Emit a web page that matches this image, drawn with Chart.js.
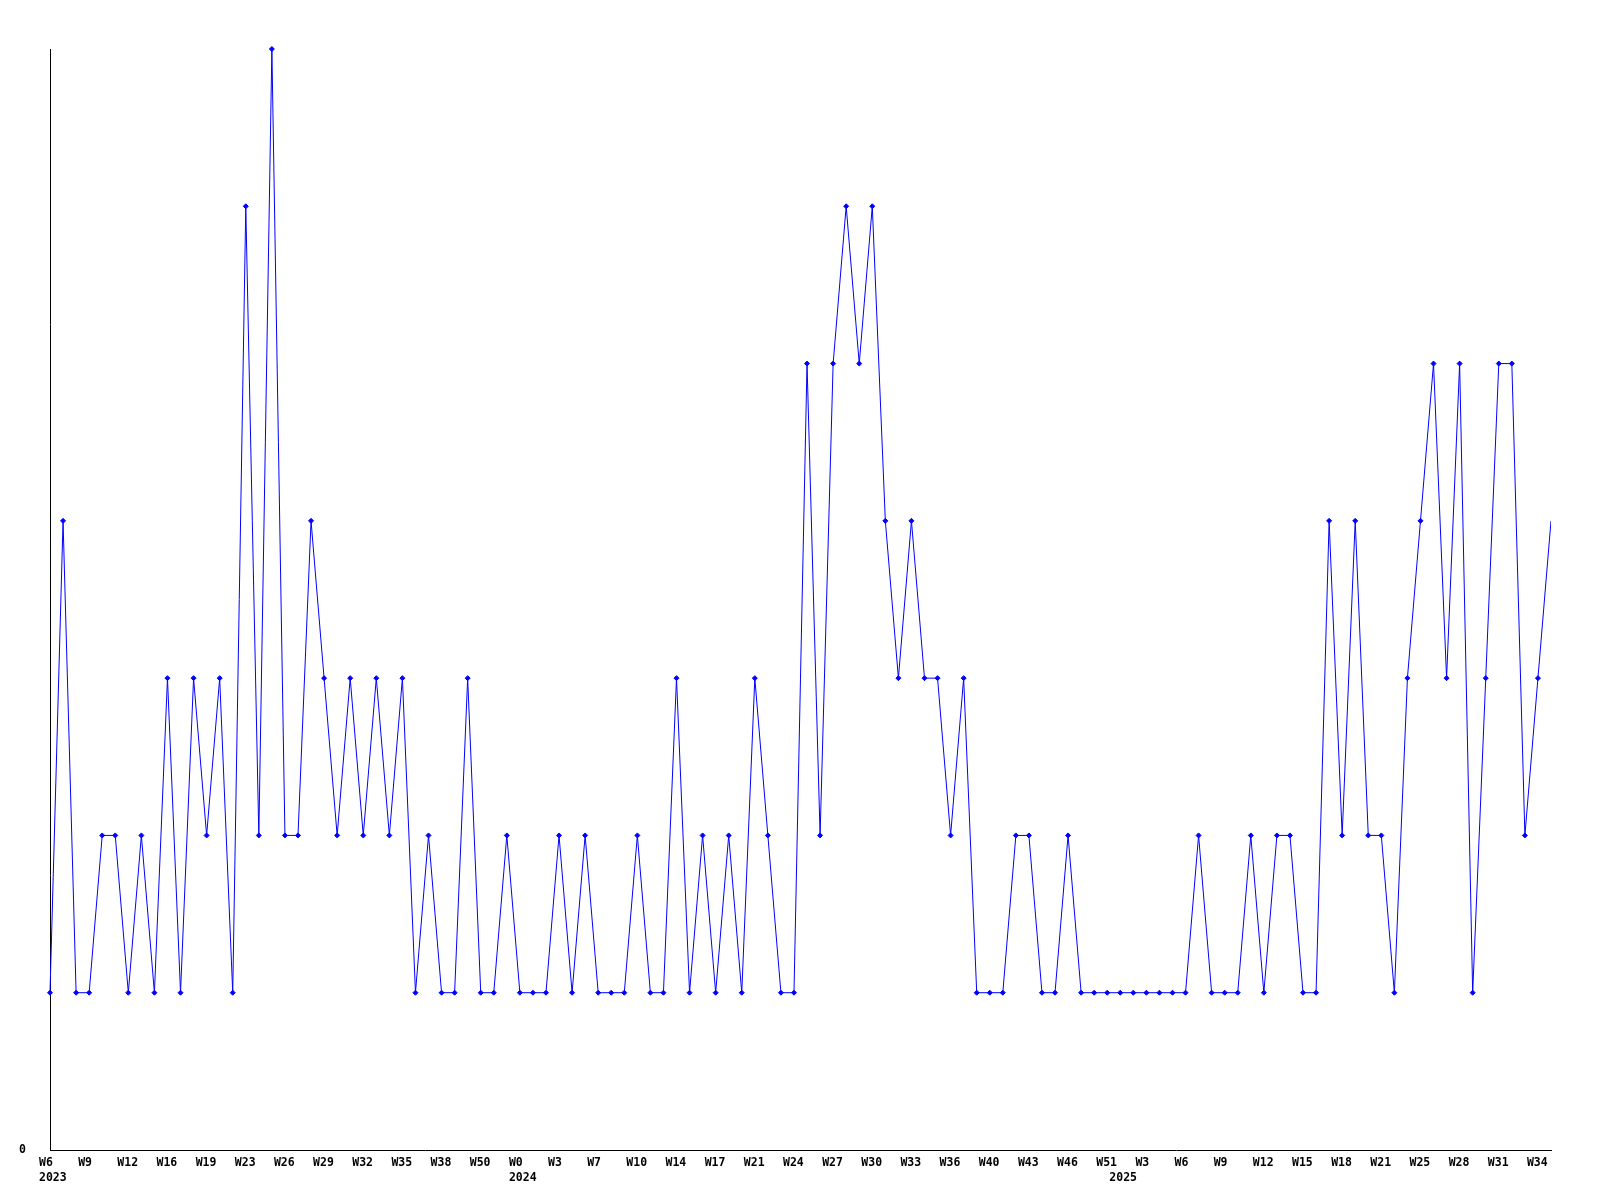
<!DOCTYPE html>
<html>
<head>
<meta charset="utf-8">
<script src="https://cdn.jsdelivr.net/npm/chart.js@4/dist/chart.umd.min.js"></script>
<style>
  html, body { margin: 0; padding: 0; background: #ffffff; }
  #wrap { width: 1600px; height: 1200px; }
</style>
</head>
<body>
<div id="wrap"><canvas id="c" width="1600" height="1200"></canvas></div>
<script>
// One value per plotted week (116 points)
const values = [
  1, 4, 1, 1, 2, 2, 1, 2, 1, 3,
  1, 3, 2, 3, 1, 6, 2, 7, 2, 2,
  4, 3, 2, 3, 2, 3, 2, 3, 1, 2,
  1, 1, 3, 1, 1, 2, 1, 1, 1, 2,
  1, 2, 1, 1, 1, 2, 1, 1, 3, 1,
  2, 1, 2, 1, 3, 2, 1, 1, 5, 2,
  5, 6, 5, 6, 4, 3, 4, 3, 3, 2,
  3, 1, 1, 1, 2, 2, 1, 1, 2, 1,
  1, 1, 1, 1, 1, 1, 1, 1, 2, 1,
  1, 1, 2, 1, 2, 2, 1, 1, 4, 2,
  4, 2, 2, 1, 3, 4, 5, 3, 5, 1,
  3, 5, 5, 2, 3, 4
];

// Week tick labels, one for every third point
const tickLabels = [
  'W6', 'W9', 'W12', 'W16', 'W19', 'W23', 'W26', 'W29', 'W32', 'W35',
  'W38', 'W50', 'W0', 'W3', 'W7', 'W10', 'W14', 'W17', 'W21', 'W24',
  'W27', 'W30', 'W33', 'W36', 'W40', 'W43', 'W46', 'W51', 'W3', 'W6',
  'W9', 'W12', 'W15', 'W18', 'W21', 'W25', 'W28', 'W31', 'W34'
];
const tickEvery = 3;

// Year labels and the point index where each year starts
const yearNames = ['2023', '2024', '2025'];
const yearStarts = [0, 36, 82];

const yTicks = [0];
const yMax = 7;

const categories = values.map((_, i) => String(i));

const FONT = '"DejaVu Sans Mono", "Liberation Mono", monospace';

new Chart(document.getElementById('c'), {
  type: 'line',
  data: {
    labels: categories,
    datasets: [{
      data: values,
      borderColor: '#0000ff',
      backgroundColor: '#0000ff',
      borderWidth: 1,
      tension: 0,
      fill: false,
      clip: { left: 5, top: 5, right: 0, bottom: 5 },
      pointStyle: 'rectRot',
      pointRadius: (ctx) => ctx.dataIndex === values.length - 1 ? 0 : 2.5,
      pointBorderWidth: 1,
      pointBorderColor: '#0000ff',
      pointBackgroundColor: '#0000ff'
    }]
  },
  options: {
    responsive: false,
    devicePixelRatio: 1,
    animation: false,
    events: [],
    layout: { padding: { top: 49, right: 49, left: 0, bottom: 0 } },
    plugins: {
      legend: { display: false },
      tooltip: { enabled: false },
      title: { display: false }
    },
    scales: {
      x: {
        type: 'category',
        offset: false,
        grid: { display: false, drawTicks: false, tickLength: 0 },
        border: { display: true, color: '#000000', width: 1 },
        afterFit: (s) => { s.height = 50; },
        ticks: {
          autoSkip: false,
          maxRotation: 0,
          minRotation: 0,
          align: 'start',
          labelOffset: -11,
          padding: 6,
          color: '#000000',
          font: { family: FONT, size: 11.5, weight: 'bold', lineHeight: '15px' },
          callback: function (val, i) {
            const first = (i % tickEvery === 0 && tickLabels[i / tickEvery]) ? tickLabels[i / tickEvery] : '';
            const y = yearStarts.indexOf(i);
            if (y >= 0) return [first, yearNames[y]];
            return first;
          }
        }
      },
      y: {
        min: 0,
        max: yMax,
        grid: { display: false, drawTicks: false, tickLength: 0 },
        border: { display: true, color: '#000000', width: 1 },
        afterFit: (s) => { s.width = 50; },
        ticks: {
          stepSize: 1,
          padding: 24,
          color: '#000000',
          font: { family: FONT, size: 11.5, weight: 'bold' },
          callback: (v) => yTicks.includes(v) ? String(v) : ''
        }
      }
    }
  }
});
</script>
</body>
</html>
